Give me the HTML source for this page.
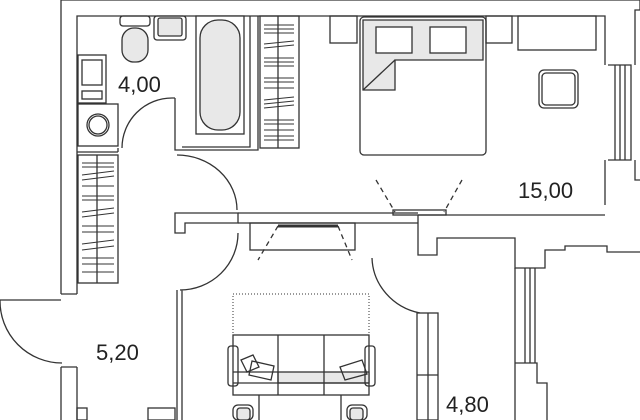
<!DOCTYPE html>
<html><head><style>body{margin:0;background:#fff}svg{display:block}text{font-family:"Liberation Sans",sans-serif;font-size:22px;fill:#222}</style></head><body>
<svg width="640" height="420" viewBox="0 0 640 420" xmlns="http://www.w3.org/2000/svg" fill="none" stroke="#333" stroke-width="1.3">
<path d="M61 294 V0 H640"/>
<path d="M77 294 V16 H605 V65"/>
<path d="M605 160 V205 M640 0 v10 h-5 v55 M635 160 v20 h5"/>
<path d="M608 65 h23 v95 h-23 M615 65 v95 M620 65 v95 M625 65 v95"/>
<path d="M61 294 h16 M61 367 h16 M61 367 V420 M77 367 V420"/>
<path d="M0 300 H61 M0 300 A62 62 0 0 0 62 363"/>
<path d="M175 98 V150 H258 V16 M172 98 h3 M182 147 H250 V16"/>
<path d="M172 98 A50 50 0 0 0 122 148 M118 152 H77 M118 148 V152"/>
<rect x="196" y="16" width="48" height="118" fill="#fff"/>
<rect x="200" y="20" width="40" height="110" rx="18" fill="#e8e8e8"/>
<rect x="120" y="16" width="30" height="10" rx="3"/>
<rect x="122" y="28" width="26" height="34" rx="12" fill="#e8e8e8"/>
<rect x="154" y="16" width="32" height="24" rx="3"/>
<rect x="158" y="18" width="24" height="18" rx="2" fill="#e8e8e8"/>
<rect x="78" y="55" width="28" height="48"/><rect x="82" y="60" width="20" height="25"/><rect x="82" y="91" width="20" height="8"/>
<rect x="78" y="104" width="40" height="42"/><circle cx="98" cy="125" r="11"/><circle cx="98" cy="125" r="9"/>
<rect x="260" y="16" width="39" height="132"/><path d="M278 16 V148"/>
<path d="M264 25h30M264 29h30M264 33h30M264 44l30-3M264 48l30-3M264 58h30M264 62h30M264 66h30M264 78h30M264 82h30M264 88h30M264 100l30-3M264 104l30-3M264 108l30-3M264 120h30M264 124h30M264 130h30M264 136h30M264 140h30" stroke-width="1"/>
<rect x="78" y="155" width="40" height="128"/><path d="M97 155 V283"/>
<path d="M82 163h32M82 167h32M82 175l32-4M82 180l32-4M82 186h32M82 196h32M82 200h32M82 212l32-4M82 217l32-4M82 226h32M82 232h32M82 244l32-4M82 250l32-4M82 258h32M82 264h32M82 272h32" stroke-width="1"/>
<path d="M177 155 A60 55 0 0 1 237 210"/>
<path d="M175 213 H238 V223 H185 V233 H175 Z" fill="#fff"/>
<path d="M238 213 H418 M238 223 H418 M418 215 H605"/>
<path d="M238 233 A58 57 0 0 1 180 290 M177 290 V420 M182 290 V420"/>
<rect x="250" y="223" width="105" height="27"/><path d="M278 226 H338" stroke-width="3"/>
<path d="M278 226 L258 260 M338 226 L352 260" stroke-dasharray="5 4"/>
<rect x="360" y="17" width="126" height="138" rx="4"/>
<path d="M363 20 H483 V60 H395 V90 H363 Z" fill="#e8e8e8"/>
<rect x="376" y="27" width="36" height="26" fill="#fff"/><rect x="430" y="27" width="36" height="26" fill="#fff"/>
<path d="M395 60 L363 90" />
<rect x="330" y="16" width="27" height="27"/><rect x="486" y="16" width="26" height="27"/>
<rect x="518" y="16" width="78" height="34"/>
<rect x="539" y="70" width="39" height="38" rx="5"/><rect x="542" y="73" width="33" height="32" rx="4"/>
<path d="M376 180 L395 212 M462 180 L444 212" stroke-dasharray="5 4"/>
<rect x="393" y="210" width="53" height="5"/>
<path d="M418 215 V255 H437 V238 H515 V268 H545 V250 H565 V246 H607 V252 H640"/>
<path d="M515 268 V363 M535 268 V363 M525 268 V363 M530 268 V363 M515 363 H537 V383 H547 V420 M515 363 V420"/>
<path d="M372 258 A60 58 0 0 0 420 313"/>
<rect x="417" y="313" width="21" height="107"/><path d="M428 313 V420 M417 375 H438"/>
<rect x="233" y="294" width="136" height="41" stroke-dasharray="1 2" stroke-width="1"/>
<rect x="233" y="335" width="136" height="60"/>
<rect x="278" y="372" width="91" height="11" fill="#e8e8e8"/>
<path d="M233 372 H278 M233 383 H369 M278 335 V395 M324 335 V395"/>
<rect x="228" y="346" width="10" height="40" rx="3"/><rect x="365" y="346" width="10" height="40" rx="3"/>
<path d="M241 360 l12 -5 l6 12 l-12 5 z M252 361 l22 5 l-3 14 l-22 -5 z M340 367 l22 -7 l5 14 l-22 6 z"/>
<path d="M259 395 V420 M341 395 V420"/>
<rect x="233" y="405" width="20" height="15" rx="5"/><rect x="237" y="408" width="13" height="12" rx="3" fill="#e8e8e8"/>
<rect x="347" y="405" width="20" height="15" rx="5"/><rect x="350" y="408" width="13" height="12" rx="3" fill="#e8e8e8"/>
<rect x="148" y="408" width="27" height="12"/><rect x="77" y="408" width="10" height="12"/>
<g stroke="none"><text x="118" y="92">4,00</text><text x="518" y="198">15,00</text><text x="96" y="360">5,20</text><text x="446" y="412">4,80</text></g>
</svg>
</body></html>
